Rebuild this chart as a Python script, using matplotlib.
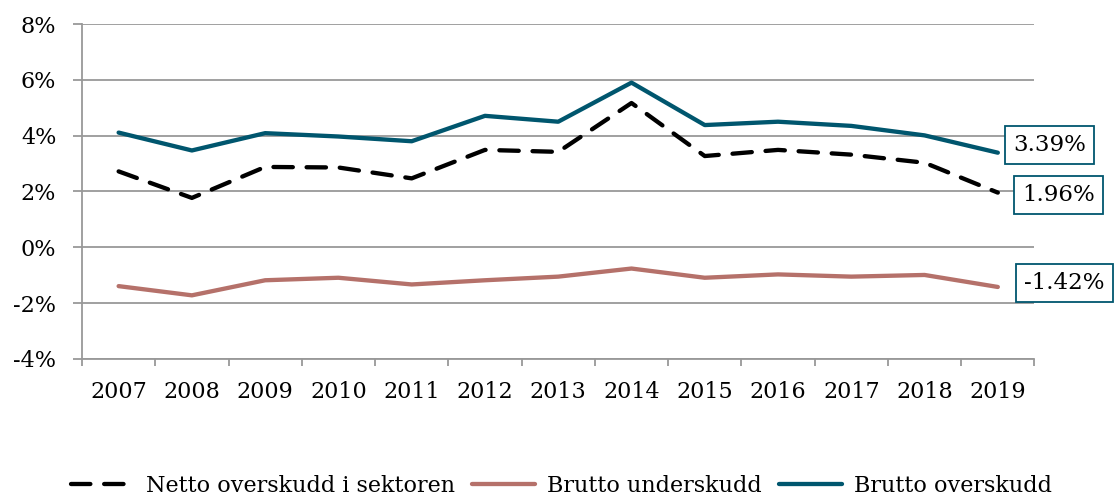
import matplotlib.pyplot as plt
import numpy as np
from matplotlib.ticker import FuncFormatter

years = ['2007', '2008', '2009', '2010', '2011', '2012', '2013',
         '2014', '2015', '2016', '2017', '2018', '2019']
brutto_over = [4.11, 3.47, 4.09, 3.97, 3.80, 4.71, 4.50, 5.90, 4.38, 4.50, 4.35, 4.01, 3.39]
brutto_under = [-1.39, -1.72, -1.18, -1.09, -1.33, -1.18, -1.05, -0.76, -1.09, -0.97, -1.05, -0.99, -1.42]
netto = [2.72, 1.77, 2.88, 2.86, 2.47, 3.49, 3.42, 5.17, 3.27, 3.49, 3.32, 3.03, 1.96]

blue = '#00566E'
brown = '#B5716A'
grid_c = '#999999'

plt.rcParams['font.family'] = 'DejaVu Serif'
fig = plt.figure(figsize=(11.14, 4.97), dpi=100)
ax = fig.add_axes([0.0736, 0.2777, 0.855, 0.674])

x = np.arange(len(years))
ax.plot(x, netto, color='black', lw=3.1, dashes=(4.5, 3.2), dash_capstyle='round',
        label='Netto overskudd i sektoren')
ax.plot(x, brutto_under, color=brown, lw=3.1, solid_capstyle='round', label='Brutto underskudd')
ax.plot(x, brutto_over, color=blue, lw=3.1, solid_capstyle='round', label='Brutto overskudd')

ax.set_xlim(-0.5, len(years) - 0.5)
ax.set_ylim(-4, 8)
ax.set_yticks(np.arange(-4, 9, 2))
ax.yaxis.set_major_formatter(FuncFormatter(lambda v, p: f'{v:.0f}%'))
ax.set_xticks(x)
ax.set_xticklabels(years)
ax.set_xticks(np.arange(-0.5, len(years), 1), minor=True)
ax.tick_params(axis='x', which='major', length=0, pad=16, labelsize=16)
ax.tick_params(axis='x', which='minor', length=5, color=grid_c, width=1.3)
ax.tick_params(axis='y', length=6.5, color=grid_c, width=1.3, labelsize=16, pad=12)

ax.grid(axis='y', color=grid_c, lw=1.3)
ax.set_axisbelow(True)
for s in ['top', 'right']:
    ax.spines[s].set_visible(False)
for s in ['left', 'bottom']:
    ax.spines[s].set_color(grid_c)
    ax.spines[s].set_linewidth(1.3)

# end labels
box = dict(boxstyle='square,pad=0.35', fc='white', ec=blue, lw=1.3)
ax.annotate(f'{brutto_over[-1]:.2f}%', (x[-1], brutto_over[-1]), xytext=(37.5, 5.7),
            textcoords='offset points', fontsize=16.5, va='center', ha='center', bbox=box)
ax.annotate(f'{netto[-1]:.2f}%', (x[-1], netto[-1]), xytext=(43.5, -1.6),
            textcoords='offset points', fontsize=16.5, va='center', ha='center', bbox=box)
ax.annotate(f'{brutto_under[-1]:.2f}%', (x[-1], brutto_under[-1]), xytext=(48, 2.9),
            textcoords='offset points', fontsize=16.5, va='center', ha='center', bbox=box,
            annotation_clip=False)

fig.legend(loc='lower center', bbox_to_anchor=(0.504, -0.04), ncol=3, frameon=False,
           fontsize=16, handlelength=2.8, columnspacing=0.8, handletextpad=0.55)

fig.savefig('out.png', dpi=100)
